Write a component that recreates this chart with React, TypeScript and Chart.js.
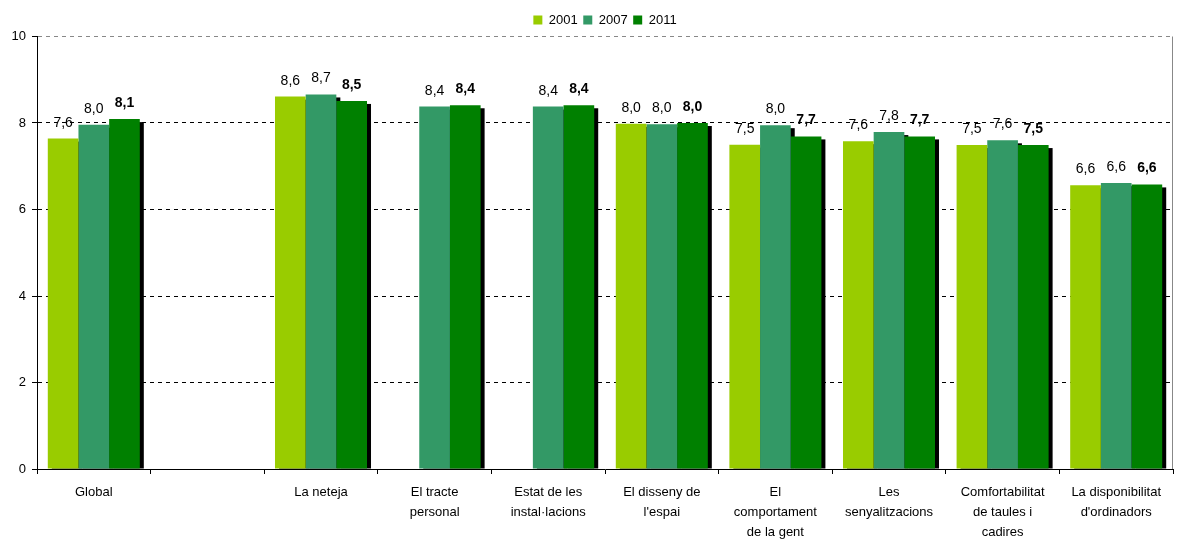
import React, { useEffect, useRef } from "react";
import { Chart, registerables } from "chart.js";

Chart.register(...registerables);

const categories: (string | string[])[] = [
  "Global",
  "",
  "La neteja",
  ["El tracte", "personal"],
  ["Estat de les", "instal·lacions"],
  ["El disseny de", "l'espai"],
  ["El", "comportament", "de la gent"],
  ["Les", "senyalitzacions"],
  ["Comfortabilitat", "de taules i", "cadires"],
  ["La disponibilitat", "d'ordinadors"],
];

const values2001: (number | null)[] = [7.64, null, 8.61, null, null, 7.98, 7.5, 7.58, 7.49, 6.56];
const values2007: (number | null)[] = [7.96, null, 8.66, 8.38, 8.38, 7.97, 7.95, 7.79, 7.6, 6.61];
const values2011: (number | null)[] = [8.09, null, 8.51, 8.41, 8.41, 8.0, 7.69, 7.69, 7.49, 6.58];

const seriesLabels = ["2001", "2007", "2011"];
const seriesColors = ["#99CC00", "#339966", "#008000"];
const yTicks = [0, 2, 4, 6, 8, 10];

const FONT = "'Liberation Sans', Arial, sans-serif";

const shadowPlugin = {
  id: "barShadow",
  beforeDatasetsDraw(chart: any) {
    const ctx = chart.ctx;
    ctx.save();
    ctx.fillStyle = "#000";
    chart.data.datasets.forEach((_: any, i: number) => {
      const meta = chart.getDatasetMeta(i);
      meta.data.forEach((el: any, j: number) => {
        const v = chart.data.datasets[i].data[j];
        if (v == null) return;
        const w = el.width;
        const top = el.y + 3;
        ctx.fillRect(el.x - w / 2 + 4, top, w, el.base - top);
      });
    });
    ctx.restore();
  },
  afterDatasetsDraw(chart: any) {
    const ctx = chart.ctx;
    ctx.save();
    ctx.fillStyle = "#000";
    ctx.textAlign = "center";
    ctx.textBaseline = "alphabetic";
    chart.data.datasets.forEach((ds: any, i: number) => {
      const meta = chart.getDatasetMeta(i);
      ctx.font = (i === 2 ? "bold " : "") + "14px " + FONT;
      meta.data.forEach((el: any, j: number) => {
        const v = ds.data[j];
        if (v == null) return;
        ctx.fillText(v.toFixed(1).replace(".", ","), el.x, el.y - 12);
      });
    });
    const a = chart.chartArea;
    ctx.strokeStyle = "#888";
    ctx.lineWidth = 1;
    ctx.beginPath();
    ctx.moveTo(Math.round(a.right) - 0.5, a.top);
    ctx.lineTo(Math.round(a.right) - 0.5, a.bottom);
    ctx.stroke();
    ctx.restore();
  },
};

export default function App() {
  const ref = useRef<HTMLCanvasElement>(null);
  useEffect(() => {
    document.body.style.margin = "0";
    const chart = new Chart(ref.current!, {
      type: "bar",
      data: {
        labels: categories,
        datasets: [values2001, values2007, values2011].map((d, i) => ({
          label: seriesLabels[i],
          data: d,
          backgroundColor: seriesColors[i],
          borderWidth: 0,
          barPercentage: 1,
          categoryPercentage: 0.81,
        })),
      },
      options: {
        responsive: false,
        animation: false,
        layout: { padding: { top: 8, right: 4, left: 0, bottom: 0 } },
        plugins: {
          tooltip: { enabled: false },
          legend: {
            position: "top",
            fullSize: false,
            labels: {
              boxWidth: 9,
              boxHeight: 9,
              padding: 5.5,
              color: "#000",
              font: { family: FONT, size: 13 },
            },
          },
        },
        scales: {
          x: {
            afterFit: (s: any) => {
              s.height = 70;
            },
            grid: {
              offset: true,
              drawOnChartArea: false,
              drawTicks: true,
              tickLength: 5,
              tickColor: "#000",
              color: "#000",
            },
            border: { color: "#000", width: 1 },
            ticks: {
              color: "#000",
              maxRotation: 0,
              autoSkip: false,
              padding: 8,
              font: { family: FONT, size: 13, lineHeight: 1.55 },
            },
          },
          y: {
            min: 0,
            max: 10,
            afterFit: (s: any) => {
              s.width = 37;
            },
            afterBuildTicks: (s: any) => {
              s.ticks = yTicks.map((v) => ({ value: v }));
            },
            grid: {
              color: (c: any) => (c.tick && c.tick.value === 10 ? "#888" : "#000"),
              tickColor: "#000",
              tickLength: 5,
              tickBorderDash: [],
              drawTicks: true,
            },
            border: { color: "#000", width: 1, dash: [4, 4] } as any,
            ticks: {
              color: "#000",
              padding: 6,
              font: { family: FONT, size: 13 },
            },
          },
        },
      } as any,
      plugins: [shadowPlugin],
    });
    return () => chart.destroy();
  }, []);
  return (
    <div style={{ position: "absolute", left: 0, top: 0, width: 1177, height: 539 }}>
      <canvas ref={ref} width={1177} height={539} />
    </div>
  );
}
